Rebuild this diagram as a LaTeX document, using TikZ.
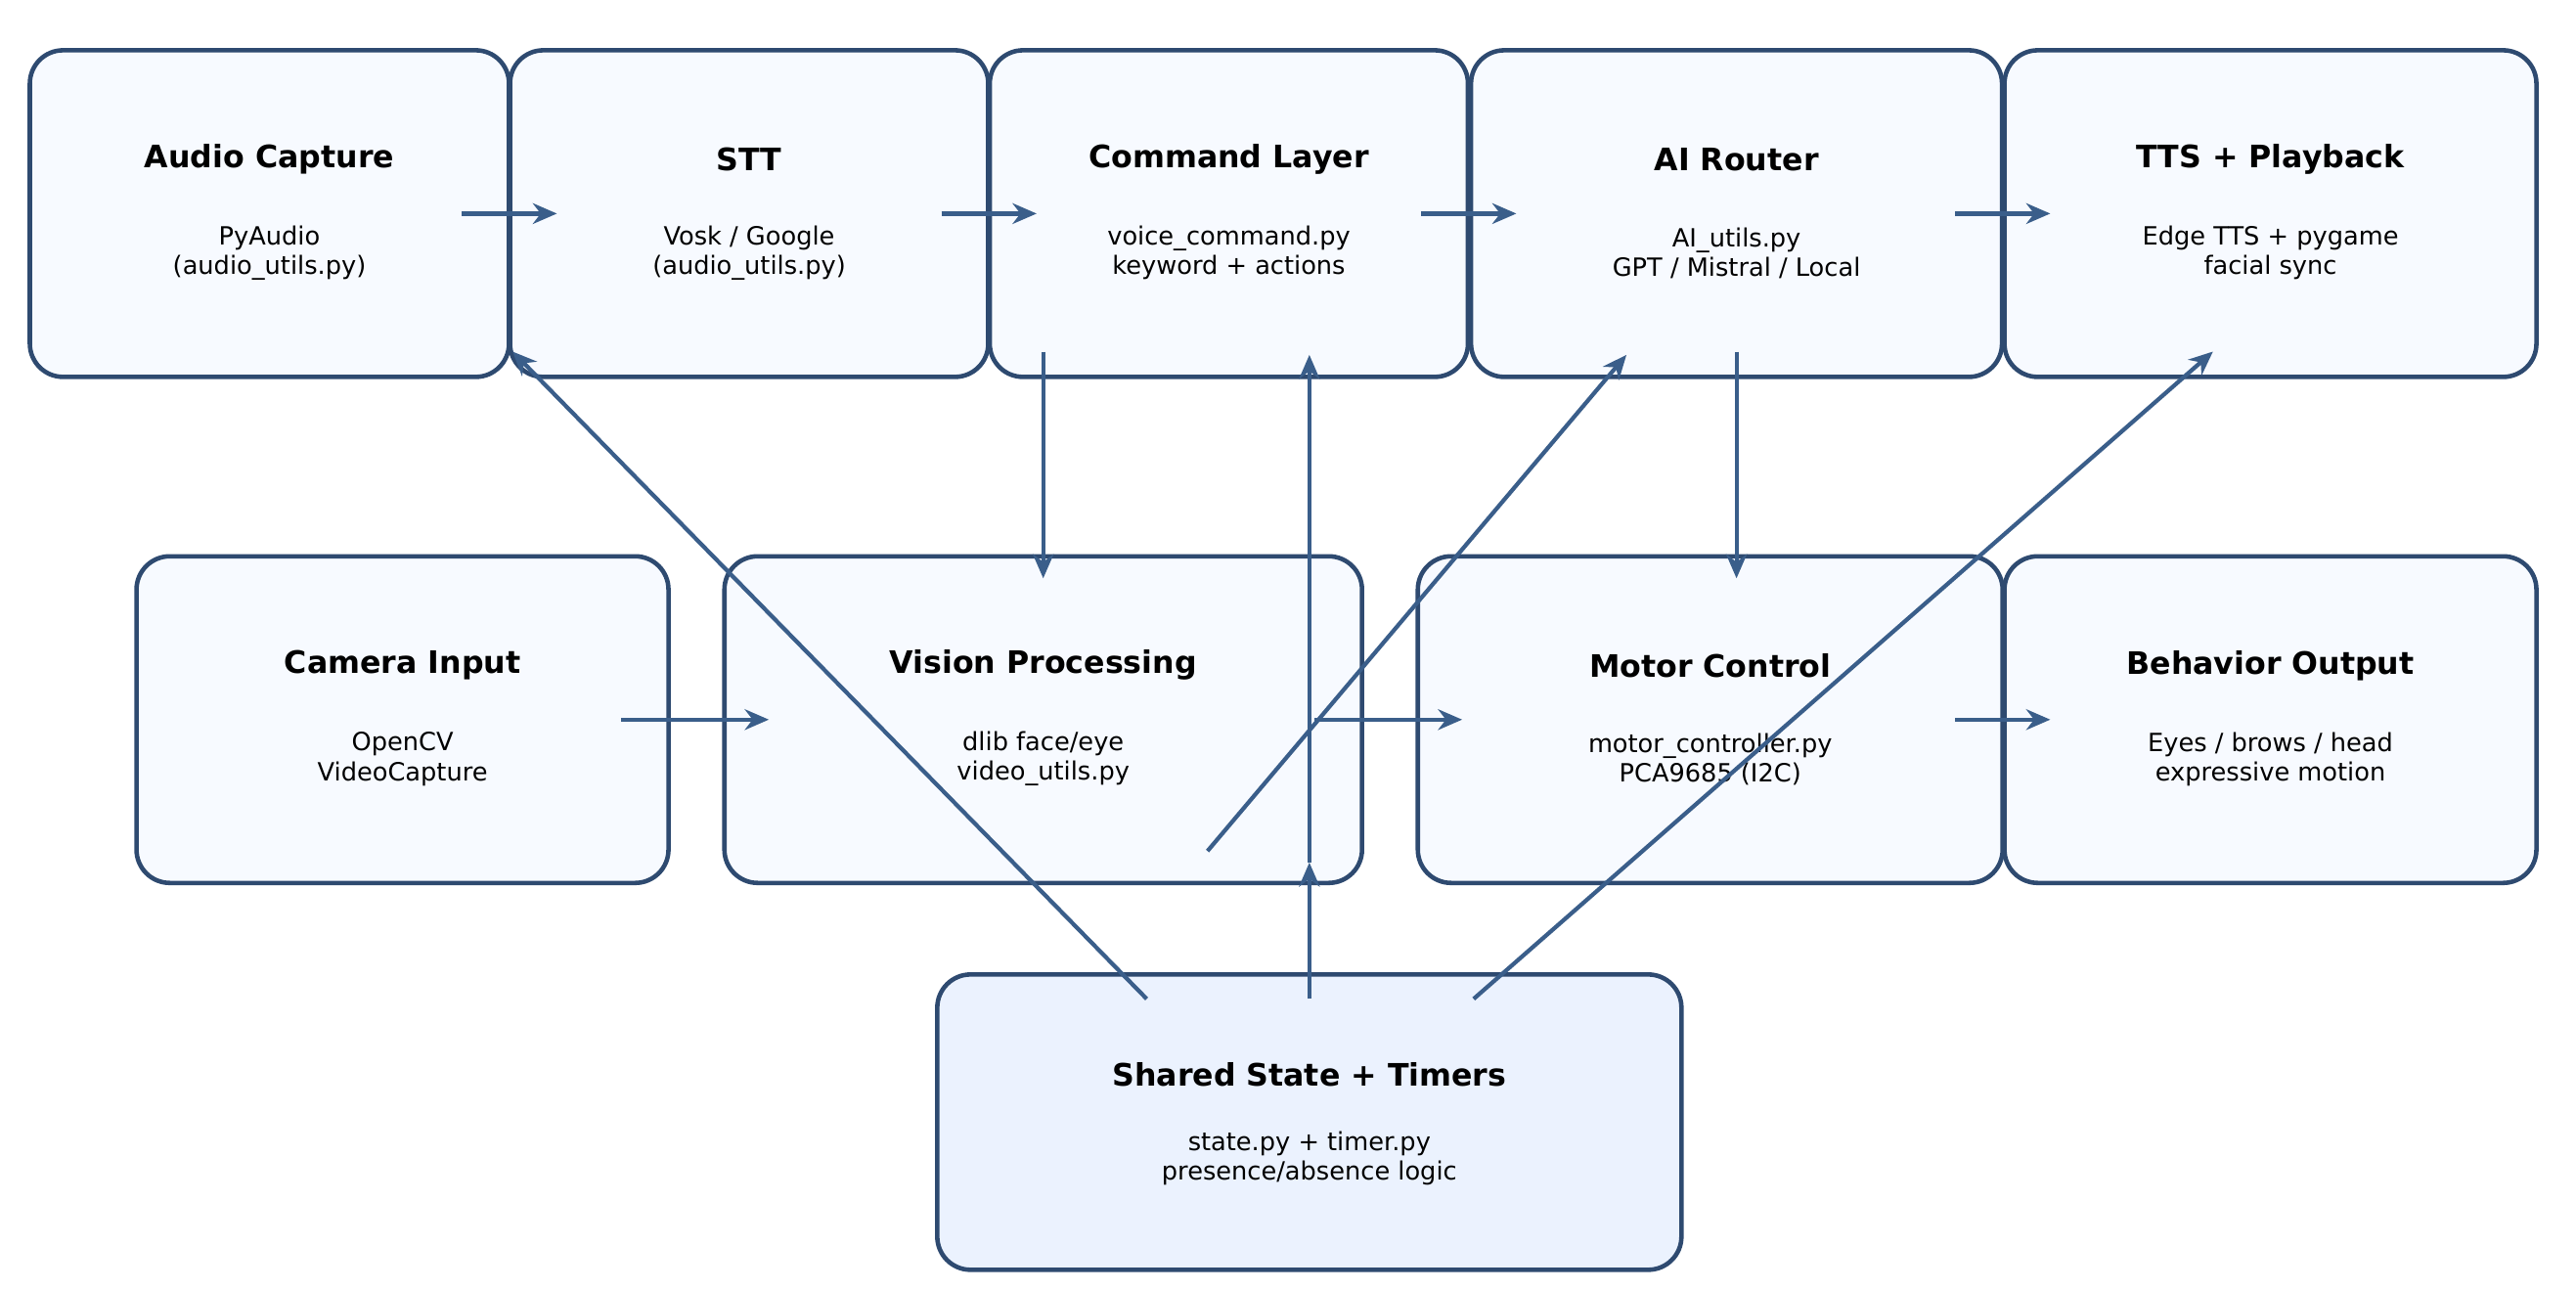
\documentclass[tikz,border=0pt]{standalone}
\usepackage{fontspec}
\setmainfont{DejaVu Sans}
\usetikzlibrary{arrows.meta}
\definecolor{edge}{HTML}{2E4A70}
\definecolor{flow}{HTML}{3A5E8A}
\definecolor{pale}{HTML}{F7FAFF}
\definecolor{paleblue}{HTML}{EBF2FE}
\begin{document}
\begin{tikzpicture}[x=0.0168cm,y=-0.0168cm,
    box/.style={draw=edge,line width=1.3pt,fill=pale,rounded corners=0.34cm,minimum height=3.34cm,inner sep=0pt},
    ttl/.style={font=\fontsize{9}{10}\selectfont\bfseries},
    sub/.style={font=\fontsize{7.3}{8.6}\selectfont,align=center},
    link/.style={-{Stealth[length=7pt,width=6pt]},draw=flow,line width=1.2pt}]
    \useasboundingbox (0,0) rectangle (1568,785);

    % top row
    \node[box,minimum width=4.9cm] (audio) at (164,130) {};
    \node[ttl] (audioT) at (164,97) {Audio Capture};
    \node[sub] (audioS) at (164,154) {PyAudio\\(audio\_utils.py)};

    \node[box,minimum width=4.89cm] (stt) at (456,130) {};
    \node[ttl] (sttT) at (456,97) {STT};
    \node[sub] (sttS) at (456,154) {Vosk / Google\\(audio\_utils.py)};

    \node[box,minimum width=4.89cm] (cmd) at (748,130) {};
    \node[ttl] (cmdT) at (748,97) {Command Layer};
    \node[sub] (cmdS) at (748,154) {voice\_command.py\\keyword + actions};

    \node[box,minimum width=5.43cm] (router) at (1057,130) {};
    \node[ttl] (routerT) at (1057,97) {AI Router};
    \node[sub] (routerS) at (1057,154) {AI\_utils.py\\GPT / Mistral / Local};

    \node[box,minimum width=5.44cm] (tts) at (1382,130) {};
    \node[ttl] (ttsT) at (1382,97) {TTS + Playback};
    \node[sub] (ttsS) at (1382,154) {Edge TTS + pygame\\facial sync};

    % middle row
    \node[box,minimum width=5.44cm] (cam) at (245,438) {};
    \node[ttl] (camT) at (245,405) {Camera Input};
    \node[sub] (camS) at (245,462) {OpenCV\\VideoCapture};

    \node[box,minimum width=6.52cm] (vision) at (635,438) {};
    \node[ttl] (visionT) at (635,405) {Vision Processing};
    \node[sub] (visionS) at (635,462) {dlib face/eye\\video\_utils.py};

    \node[box,minimum width=5.98cm] (motor) at (1041,438) {};
    \node[ttl] (motorT) at (1041,405) {Motor Control};
    \node[sub] (motorS) at (1041,462) {motor\_controller.py\\PCA9685 (I2C)};

    \node[box,minimum width=5.44cm] (behav) at (1382,438) {};
    \node[ttl] (behavT) at (1382,405) {Behavior Output};
    \node[sub] (behavS) at (1382,462) {Eyes / brows / head\\expressive motion};

    % shared state
    \node[box,fill=paleblue,minimum width=7.61cm,minimum height=3.02cm] (state) at (797,683) {};
    \node[ttl] (stateT) at (797,654) {Shared State + Timers};
    \node[sub] (stateS) at (797,705) {state.py + timer.py\\presence/absence logic};

    % flow arrows
    \draw[link] (281,130) -- (339,130);
    \draw[link] (573,130) -- (631,130);
    \draw[link] (865,130) -- (923,130);
    \draw[link] (1190,130) -- (1248,130);
    \draw[link] (378,438) -- (468,438);
    \draw[link] (800,438) -- (890,438);
    \draw[link] (1190,438) -- (1248,438);
    \draw[link] (635,214) -- (635,352);
    \draw[link] (1057,214) -- (1057,352);
    \draw[link] (698,608) -- (312,214);
    \draw[link] (797,608) -- (797,525);
    \draw[link] (797,525) -- (797,216);
    \draw[link] (735,518) -- (990,216);
    \draw[link] (897,608) -- (1347,214);
\end{tikzpicture}
\end{document}
